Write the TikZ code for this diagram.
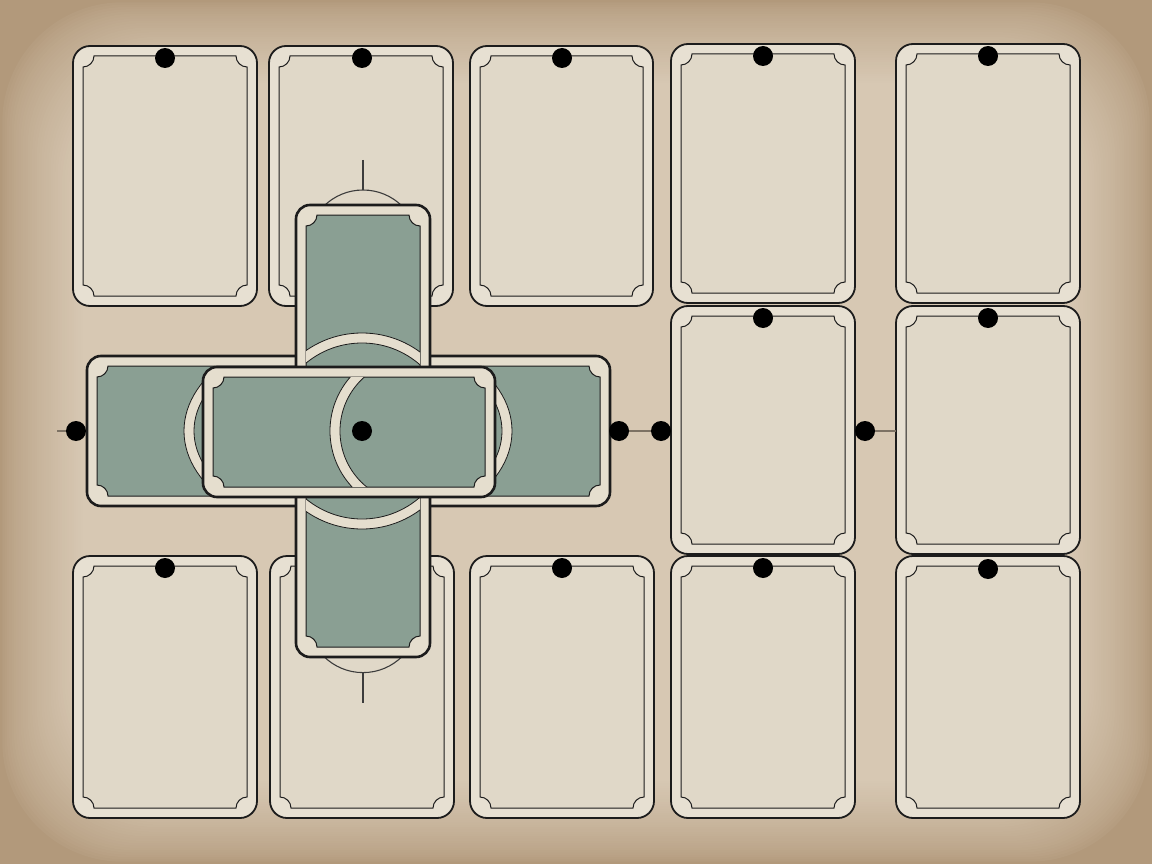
\documentclass[tikz,border=0pt]{standalone}
\usetikzlibrary{calc}
\definecolor{bgin}{RGB}{215,200,179}
\definecolor{bgcorner}{RGB}{178,153,123}
\definecolor{ink}{RGB}{28,28,28}
\definecolor{cframe}{RGB}{231,224,210}
\definecolor{cinner}{RGB}{224,216,200}
\definecolor{gframe}{RGB}{229,222,206}
\definecolor{ginner}{RGB}{138,159,147}
\definecolor{conn}{RGB}{125,114,100}
\definecolor{thin}{RGB}{60,60,60}
% inner scalloped frame path: x1 y1 x2 y2
\newcommand\inpath[4]{(#1+11,#2) -- (#3-11,#2) .. controls (#3-11,#2+6) and (#3-6,#2+11) .. (#3,#2+11) -- (#3,#4-11) .. controls (#3-6,#4-11) and (#3-11,#4-6) .. (#3-11,#4) -- (#1+11,#4) .. controls (#1+11,#4-6) and (#1+6,#4-11) .. (#1,#4-11) -- (#1,#2+11) .. controls (#1+6,#2+11) and (#1+11,#2+6) .. (#1+11,#2) -- cycle}
% card: x1 y1 x2 y2 frame inner linewidth radius
\newcommand\mycard[8]{%
  \draw[line width=#7, draw=ink, fill=#5, rounded corners=#8] (#1,#2) rectangle (#3,#4);
  \fill[#6] \inpath{#1+10}{#2+10}{#3-10}{#4-10};
  \draw[innerline] \inpath{#1+10}{#2+10}{#3-10}{#4-10};
}
\tikzset{
  innerline/.style={draw=ink, line width=1},
  dot/.style={circle, fill=black, inner sep=0pt, minimum size=20pt},
  connline/.style={draw=conn, line width=1.5},
  thinline/.style={draw=thin, line width=1.1},
  ringfill/.style={draw=gframe, line width=10},
  ringedge/.style={draw=ink, line width=0.8}
}
\begin{document}
\begin{tikzpicture}[x=1pt,y=-1pt]
\useasboundingbox (0,0) rectangle (1152,864);
% parchment background with darker edges
\fill[bgcorner] (0,0) rectangle (1152,864);
\foreach \i in {0,...,36}{
  \pgfmathsetmacro\p{100*(\i/36)^0.7}
  \fill[bgin!\p!bgcorner, rounded corners=120] (\i*2.3,\i*2.3) rectangle (1152-\i*2.3,864-\i*2.3);
}

% cream cards
\mycard{73}{46}{257}{306}{cframe}{cinner}{1.8}{17}
\mycard{269}{46}{453}{306}{cframe}{cinner}{1.8}{17}
\mycard{470}{46}{653}{306}{cframe}{cinner}{1.8}{17}
\mycard{671}{44}{855}{303}{cframe}{cinner}{1.8}{17}
\mycard{896}{44}{1080}{303}{cframe}{cinner}{1.8}{17}
\mycard{671}{306}{855}{554}{cframe}{cinner}{1.8}{17}
\mycard{896}{306}{1080}{554}{cframe}{cinner}{1.8}{17}
\mycard{73}{556}{257}{818}{cframe}{cinner}{1.8}{17}
\mycard{270}{556}{454}{818}{cframe}{cinner}{1.8}{17}
\mycard{470}{556}{654}{818}{cframe}{cinner}{1.8}{17}
\mycard{671}{556}{855}{818}{cframe}{cinner}{1.8}{17}
\mycard{896}{556}{1080}{818}{cframe}{cinner}{1.8}{17}

% thin guides above and below the cross
\draw[thinline] (363,160) -- (363,190);
\draw[thinline] (363,245.6) circle[radius=55.6];
\draw[thinline] (363,673) -- (363,703);
\draw[thinline] (363,617) circle[radius=55.6];

% green cross: wide horizontal card
\mycard{87}{356}{610}{506}{gframe}{ginner}{2.6}{14}
\begin{scope}
  \clip \inpath{97}{366}{600}{496};
  \draw[ringfill] (348,431) ellipse[x radius=159, y radius=100];
  \draw[ringedge] (348,431) ellipse[x radius=164, y radius=105];
  \draw[ringedge] (348,431) ellipse[x radius=154, y radius=95];
\end{scope}
% vertical card
\mycard{296}{205}{430}{657}{gframe}{ginner}{2.6}{14}
\begin{scope}
  \clip \inpath{306}{215}{420}{647};
  \draw[ringfill] (362,431) circle[radius=93];
  \draw[ringedge] (362,431) circle[radius=98];
  \draw[ringedge] (362,431) circle[radius=88];
\end{scope}
% centre card
\mycard{203}{367}{495}{497}{gframe}{ginner}{2.6}{14}
\begin{scope}
  \clip \inpath{213}{377}{485}{487};
  \clip (0,0) rectangle (412,864);
  \draw[ringfill] (412,431) circle[radius=77];
  \draw[ringedge] (412,431) circle[radius=82];
  \draw[ringedge] (412,431) circle[radius=72];
\end{scope}

% dots
\node[dot] (a1) at (165,58) {};
\node[dot] (a2) at (362,58) {};
\node[dot] (a3) at (562,58) {};
\node[dot] (a4) at (763,56) {};
\node[dot] (a5) at (988,56) {};
\node[dot] (b4) at (763,318) {};
\node[dot] (b5) at (988,318) {};
\node[dot] (c1) at (165,568) {};
\node[dot] (c3) at (562,568) {};
\node[dot] (c4) at (763,568) {};
\node[dot] (c5) at (988,569) {};
\node[dot] (ctr) at (362,431) {};
\node[dot] (pl) at (76,431) {};
\node[dot] (pr1) at (619,431) {};
\node[dot] (pr2) at (661,431) {};
\node[dot] (pr3) at (865,431) {};

% connectors
\coordinate (lend) at (57,431);
\coordinate (rend) at (896,431);
\draw[connline] (pl) -- (lend);
\draw[connline] (pr1) -- (pr2);
\draw[connline] (pr3) -- (rend);
\end{tikzpicture}
\end{document}
